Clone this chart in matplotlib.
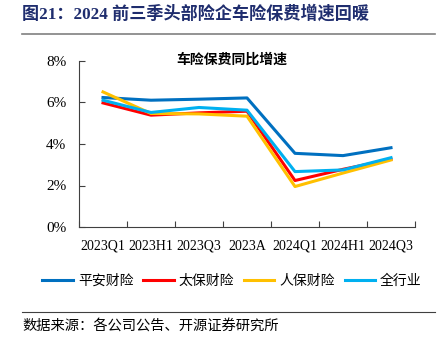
import numpy as np
import matplotlib.pyplot as plt
from matplotlib.lines import Line2D

plt.rcParams['font.family'] = ['Liberation Serif', 'Noto Sans CJK SC']

categories = ['2023Q1', '2023H1', '2023Q3', '2023A', '2024Q1', '2024H1', '2024Q3']
pingan = [6.24, 6.11, 6.16, 6.22, 3.55, 3.44, 3.82]
taibao = [5.98, 5.39, 5.50, 5.58, 2.24, 2.78, 3.26]
renbao = [6.51, 5.47, 5.45, 5.34, 1.95, 2.60, 3.23]
industry = [6.11, 5.52, 5.76, 5.63, 2.67, 2.75, 3.34]

series_names = ['平安财险', '太保财险', '人保财险', '全行业']
colors = ['#0070C0', '#FF0000', '#FFC000', '#00B0F0']

fig = plt.figure(figsize=(4.4, 3.51), dpi=100)
ax = fig.add_axes([79/440, 1 - 227/351, (415 - 79)/440, (227 - 61)/351])

x = np.arange(len(categories))
for vals, c in zip([pingan, taibao, renbao, industry], colors):
    ax.plot(x, vals, color=c, linewidth=2.2)

ax.set_xlim(-0.5, len(categories) - 0.5)
ax.set_ylim(0, 8)
ax.set_yticks([0, 2, 4, 6, 8])
ax.set_yticklabels([f'{v}%' for v in [0, 2, 4, 6, 8]], fontsize=11)
ax.set_xticks(np.arange(-0.5, len(categories), 1))
ax.set_xticklabels([])
ax.set_xticks(x, minor=True)
ax.set_xticklabels(categories, minor=True, fontsize=10)
ax.tick_params(axis='x', which='minor', length=0, pad=9)
ax.tick_params(axis='x', which='major', direction='in', length=4, color='#404040')
ax.tick_params(axis='y', direction='in', length=4, color='#404040', pad=9)
ax.spines['top'].set_visible(False)
ax.spines['right'].set_visible(False)
ax.spines['left'].set_color('#404040')
ax.spines['bottom'].set_color('#404040')

fig.text(232/440, 1 - 60/351, '车险保费同比增速', ha='center', va='center',
         fontsize=10, fontweight='bold', family=['Noto Sans CJK SC'])

# figure title + rules
fig.text(22/440, 1 - 14/351, '图21：2024 前三季头部险企车险保费增速回暖', ha='left', va='center',
         fontsize=12.3, fontweight='bold', color='#1F2D6E', family=['Liberation Serif', 'Noto Sans CJK SC'])
fig.add_artist(Line2D([22/440, 435/440], [1 - 34/351, 1 - 34/351], color='#808080', linewidth=1.2))
fig.add_artist(Line2D([22/440, 435/440], [1 - 312/351, 1 - 312/351], color='#404040', linewidth=0.8))
fig.text(22/440, 1 - 326/351, '数据来源：各公司公告、开源证券研究所', ha='left', va='center',
         fontsize=10.3, family=['Noto Sans CJK SC'])

handles = [Line2D([0], [0], color=c, linewidth=2.2) for c in colors]
leg = fig.legend(handles, series_names, loc='center', bbox_to_anchor=(232/440, 1 - 281/351), ncol=4,
                 frameon=False, handlelength=2.2, handletextpad=0.36, columnspacing=0.7,
                 prop={'family': ['Noto Sans CJK SC'], 'size': 10})

fig.savefig('out.png', dpi=100)
